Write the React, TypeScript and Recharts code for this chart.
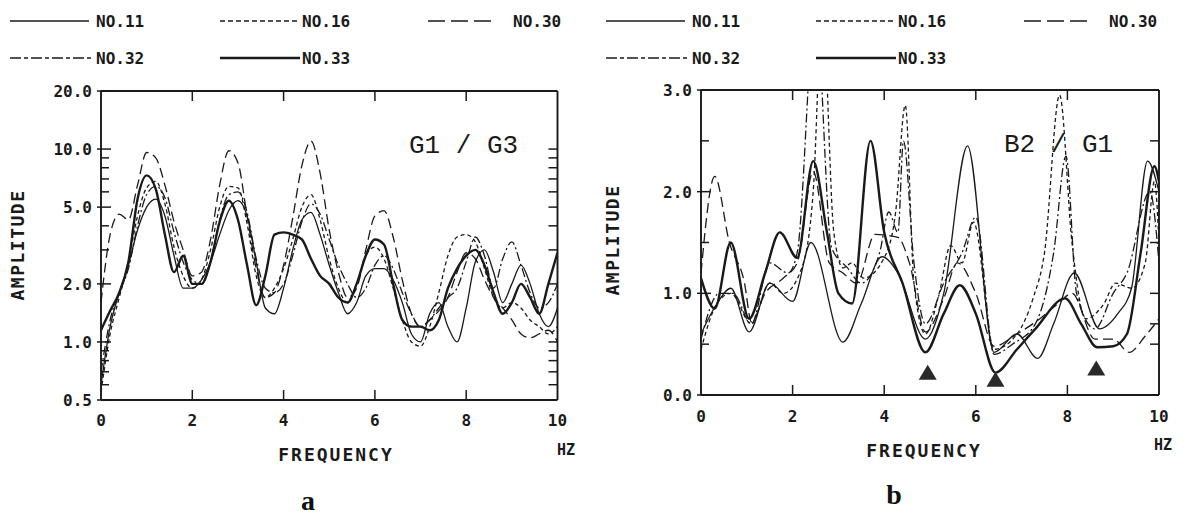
import React from 'react';
import { ComposedChart, Line, XAxis, YAxis, Scatter } from 'recharts';

// ---------- data ----------
const freqA = [0,0.2,0.4,0.6,0.8,1,1.2,1.4,1.6,1.8,2,2.2,2.4,2.6,2.8,3,3.2,3.4,3.6,3.8,4,4.2,4.4,4.6,4.8,5,5.2,5.4,5.6,5.8,6,6.2,6.4,6.6,6.8,7,7.2,7.4,7.6,7.8,8,8.2,8.4,8.6,8.8,9,9.2,9.4,9.6,9.8,10];
const a11 = [0.6,1.2,1.8,2.5,3.8,5.0,5.5,4.5,2.8,1.9,1.9,2.1,2.6,3.6,4.8,5.4,4.5,2.6,1.5,1.4,1.9,3.0,4.3,4.7,3.6,2.5,1.8,1.4,1.6,2.2,2.4,2.4,2.1,1.6,1.1,1.0,1.4,1.6,1.2,1.0,1.5,2.6,3.0,2.3,1.6,2.0,2.5,2.0,1.4,1.2,1.5];
const a16 = [0.55,1.1,1.7,2.6,4.5,6.3,6.8,5.2,3.1,2.2,1.9,2.1,3.0,5.0,6.4,6.3,4.1,2.2,1.7,1.9,2.4,3.4,5.0,5.8,4.3,2.7,1.9,1.6,2.0,2.8,3.1,2.7,1.9,1.3,1.0,0.95,1.2,1.8,2.8,3.5,3.6,3.3,2.4,1.7,1.5,1.6,1.5,1.3,1.2,1.1,1.2];
const a30 = [1.6,3.6,4.6,4.3,6.5,9.6,9.0,6.5,4.2,3.0,2.2,2.3,3.4,6.5,9.8,8.5,4.5,2.4,1.7,1.8,2.5,4.4,8.2,11.0,7.5,3.8,2.3,1.7,1.9,3.0,4.5,4.8,3.5,2.1,1.4,1.2,1.3,1.45,1.7,2.3,2.9,2.7,2.1,1.7,1.5,1.3,1.1,1.05,1.1,1.15,1.0];
const a32 = [0.7,1.3,1.8,2.4,4.0,5.8,6.4,5.6,3.7,2.6,2.1,2.0,2.6,4.3,5.8,6.0,4.7,2.7,1.9,1.8,2.0,2.8,4.2,5.2,4.6,3.4,2.5,2.0,1.7,1.9,2.5,2.8,2.4,1.8,1.4,1.2,1.3,1.5,1.7,1.9,2.6,3.5,2.8,1.9,2.7,3.3,2.5,1.8,1.5,1.6,2.0];
const a33 = [1.15,1.45,1.8,2.6,5.5,7.3,6.2,3.6,2.3,2.8,2.0,2.0,2.6,4.2,5.4,4.3,2.5,1.55,2.2,3.6,3.7,3.6,3.4,2.7,2.2,2.0,1.7,1.6,2.0,2.8,3.4,3.2,2.0,1.3,1.2,1.2,1.15,1.3,1.9,2.4,2.8,3.0,2.5,1.8,1.4,1.6,2.0,1.7,1.4,2.0,2.9];

const b11F = [0,0.35,0.65,1.05,1.5,2.0,2.4,3.1,3.5,3.95,4.3,4.9,5.3,5.82,6.4,6.9,7.35,7.7,8.15,8.7,9.1,9.4,9.75,10];
const b11V = [0.6,0.9,1.05,0.62,1.1,0.92,1.5,0.52,0.9,1.36,1.2,0.55,1.0,2.45,0.42,0.6,0.36,0.7,1.2,0.65,0.8,1.05,2.3,2.0];
const b16F = [0,0.35,0.65,1.1,1.5,1.8,2.2,2.45,2.65,2.9,3.1,3.3,3.55,4.0,4.25,4.46,4.65,4.9,5.2,5.45,5.7,5.95,6.4,6.9,7.25,7.5,7.83,8.1,8.4,8.8,9.05,9.4,9.7,9.9,10];
const b16V = [0.45,0.9,1.0,0.7,1.1,1.0,1.25,2.0,3.8,1.6,1.25,1.3,1.15,1.35,1.8,2.85,1.1,0.6,1.0,1.47,1.3,1.7,0.45,0.6,0.95,1.4,2.95,1.5,0.75,0.9,1.1,1.05,1.3,2.1,1.5];
const b30F = [0,0.3,0.62,0.95,1.1,1.4,1.8,2.1,2.45,2.8,3.1,3.4,3.8,4.3,4.55,4.9,5.3,5.6,6.0,6.4,6.9,7.4,7.8,8.1,8.6,9.0,9.35,9.7,10];
const b30V = [1.2,2.15,1.5,1.1,0.72,1.0,1.15,1.3,2.2,1.3,1.2,1.1,1.58,1.55,1.3,0.62,0.95,1.3,1.0,0.48,0.6,0.75,0.9,1.0,0.55,0.55,0.42,0.58,0.75];
const b32F = [0,0.4,0.7,1.1,1.5,1.9,2.1,2.5,2.85,3.2,3.5,3.9,4.1,4.3,4.42,4.65,4.9,5.3,5.7,6.0,6.4,6.8,7.3,7.7,7.97,8.2,8.6,9.0,9.3,9.8,10];
const b32V = [0.55,1.0,1.0,0.7,1.3,1.2,1.4,3.8,1.45,1.25,1.1,1.4,1.8,1.6,2.5,1.3,0.7,1.1,1.4,1.75,0.4,0.5,0.7,1.4,2.35,1.0,0.65,1.0,1.2,2.0,1.3];
const b33F = [0,0.3,0.65,1.05,1.4,1.72,2.1,2.45,2.75,3.0,3.3,3.7,4.0,4.4,4.9,5.3,5.65,6.0,6.43,6.9,7.3,7.95,8.3,8.65,9.0,9.3,9.6,9.9,10];
const b33V = [1.15,0.85,1.5,0.75,1.2,1.6,1.35,2.3,1.6,1.0,0.9,2.5,1.6,1.1,0.42,0.8,1.08,0.8,0.22,0.45,0.65,0.95,0.7,0.47,0.48,0.6,1.4,2.25,2.1];

const triF = [4.95, 6.43, 8.63];
const triV = [0.22, 0.15, 0.26];

const xTicks = [0, 2, 4, 6, 8, 10];
const xInnerTicks = [2, 4, 6, 8];
const aMajor = [0.5, 1, 2, 5, 10, 20];
const aMinor = [0.6, 0.7, 0.8, 0.9, 3, 4, 6, 7, 8, 9];
const bMajor = [0, 1, 2, 3];
const bMinor = [0.5, 1.5, 2.5];
const bRight = [0.5, 0.7, 1, 1.5, 2, 2.5];
const seriesNames = ['NO.11', 'NO.16', 'NO.30', 'NO.32', 'NO.33'];

// ---------- style ----------
const INK = '#1a1a1a';
const FONT = "'DejaVu Sans Mono', 'Liberation Mono', monospace";
const THIN = "'Liberation Mono', 'DejaVu Sans Mono', monospace";
const WEIGHT = 600;
const styles: Record<string, { w: number; dash?: string }> = {
  'NO.11': { w: 1.3 },
  'NO.16': { w: 1.3, dash: '4 3' },
  'NO.30': { w: 1.3, dash: '10 5' },
  'NO.32': { w: 1.3, dash: '9 3 2 3' },
  'NO.33': { w: 2.4 },
};

const zip = (fs: number[], vs: number[]) => fs.map((f, i) => ({ f, v: vs[i] }));
const seriesA = [a11, a16, a30, a32, a33].map((vs) => zip(freqA, vs));
const seriesB = [zip(b11F, b11V), zip(b16F, b16V), zip(b30F, b30V), zip(b32F, b32V), zip(b33F, b33V)];
const triData = zip(triF, triV);

const has = (arr: number[], v: number) => arr.some((m) => Math.abs(m - v) < 1e-9);

const leftTick = (majors: number[], digits: number, margin: number) => (props: any) => {
  const { x, y, payload } = props;
  const v = payload.value as number;
  const major = has(majors, v);
  const ax = x + margin;
  return (
    <g>
      <line x1={major ? ax - 4 : ax} x2={ax + (major ? 10 : 8)} y1={y} y2={y} stroke={INK} strokeWidth={1.5} />
      {major && (
        <text x={x} y={y + 6} textAnchor="end" fontFamily={FONT} fontWeight={WEIGHT} fontSize={16} fill={INK}>
          {v.toFixed(digits)}
        </text>
      )}
    </g>
  );
};

const rightTick = (props: any) => {
  const { x, y } = props;
  return <line x1={x} x2={x - 9} y1={y} y2={y} stroke={INK} strokeWidth={1.5} />;
};

const bottomTick = (margin: number) => (props: any) => {
  const { x, y, payload } = props;
  const v = payload.value as number;
  const ay = y - margin;
  return (
    <g>
      {v > 0 && v < 10 && <line x1={x} x2={x} y1={ay} y2={ay - 10} stroke={INK} strokeWidth={1.5} />}
      <text x={x} y={y + 12} textAnchor="middle" fontFamily={FONT} fontWeight={WEIGHT} fontSize={16} fill={INK}>
        {String(v)}
      </text>
    </g>
  );
};

const topTick = (props: any) => {
  const { x, y } = props;
  return <line x1={x} x2={x} y1={y} y2={y + 10} stroke={INK} strokeWidth={1.5} />;
};

const Triangle = (props: any) => {
  const { cx, cy } = props;
  return <polygon points={`${cx},${cy - 8} ${cx - 9},${cy + 7} ${cx + 9},${cy + 7}`} fill="#2a2a2a" />;
};

const axisLine = { stroke: INK, strokeWidth: 1.9 };

function Panel(props: {
  width: number;
  margin: { top: number; right: number; bottom: number; left: number };
  leftWidth: number;
  log: boolean;
  series: { f: number; v: number }[][];
  bottomMargin: number;
  tri?: boolean;
}) {
  const { width, margin, leftWidth, log, series, bottomMargin, tri } = props;
  const domain: [number, number] = log ? [0.5, 20] : [0, 3];
  const leftTicks = log ? [...aMajor, ...aMinor].sort((p, q) => p - q) : [...bMajor, ...bMinor].sort((p, q) => p - q);
  const rTicks = log ? [...aMajor, ...aMinor].filter((v) => v > 0.5 && v < 20) : bRight;
  return (
    <ComposedChart width={width} height={520} margin={margin}>
      <XAxis xAxisId="b" type="number" dataKey="f" domain={[0, 10]} ticks={xTicks} interval={0} orientation="bottom"
        height={40} tickSize={0} tickMargin={bottomMargin} tickLine={false} axisLine={axisLine}
        tick={bottomTick(bottomMargin)} allowDataOverflow />
      <XAxis xAxisId="t" type="number" dataKey="f" domain={[0, 10]} ticks={xInnerTicks} interval={0} orientation="top"
        height={1} tickSize={0} tickMargin={0} tickLine={false} axisLine={axisLine} tick={topTick} allowDataOverflow />
      <YAxis yAxisId="l" type="number" scale={log ? 'log' : 'linear'} domain={domain} ticks={leftTicks} interval={0}
        width={leftWidth} tickSize={0} tickMargin={9} tickLine={false} axisLine={axisLine}
        tick={leftTick(log ? aMajor : bMajor, 1, 9)} allowDataOverflow />
      <YAxis yAxisId="r" orientation="right" type="number" scale={log ? 'log' : 'linear'} domain={domain} ticks={rTicks}
        interval={0} width={8} tickSize={0} tickMargin={0} tickLine={false} axisLine={axisLine} tick={rightTick}
        allowDataOverflow />
      {series.map((d, i) => {
        const st = styles[seriesNames[i]];
        return (
          <Line key={seriesNames[i]} xAxisId="b" yAxisId="l" data={d} dataKey="v" name={seriesNames[i]}
            type="monotone" stroke={INK} strokeWidth={st.w} strokeDasharray={st.dash} dot={false}
            activeDot={false} isAnimationActive={false} />
        );
      })}
      {tri && (
        <Scatter xAxisId="b" yAxisId="l" data={triData} dataKey="v" shape={Triangle} isAnimationActive={false} />
      )}
    </ComposedChart>
  );
}

function LegendBlock({ ox }: { ox: number }) {
  const items = [
    { name: 'NO.11', x1: 10, x2: 89, tx: 96, y: 21, w: 1.3, dash: undefined },
    { name: 'NO.16', x1: 220, x2: 300, tx: 302, y: 21, w: 1.3, dash: '5 3' },
    { name: 'NO.30', x1: 428, x2: 494, tx: 513, y: 21, w: 1.4, dash: '17 6' },
    { name: 'NO.32', x1: 10, x2: 93, tx: 96, y: 58, w: 1.3, dash: '11 3 4 3' },
    { name: 'NO.33', x1: 220, x2: 300, tx: 302, y: 58, w: 2.3, dash: undefined },
  ];
  return (
    <g>
      {items.map((it) => (
        <g key={it.name}>
          <line x1={ox + it.x1} x2={ox + it.x2} y1={it.y} y2={it.y} stroke={INK} strokeWidth={it.w} strokeDasharray={it.dash} />
          <text x={ox + it.tx} y={it.y + 6} fontFamily={FONT} fontWeight={WEIGHT} fontSize={16} fill={INK}>{it.name}</text>
        </g>
      ))}
    </g>
  );
}

export default function App() {
  return (
    <div style={{ position: 'absolute', left: 0, top: 0, width: 1187, height: 520, background: '#fff', overflow: 'hidden' }}>
      <div style={{ position: 'absolute', left: 0, top: 0 }}>
        <Panel width={594} margin={{ top: 90, right: 28.5, bottom: 80, left: 0 }} leftWidth={101}
          log series={seriesA} bottomMargin={14} />
      </div>
      <div style={{ position: 'absolute', left: 594, top: 0 }}>
        <Panel width={593} margin={{ top: 89, right: 20, bottom: 85, left: 0 }} leftWidth={107}
          log={false} series={seriesB} bottomMargin={15} tri />
      </div>
      <svg width={1187} height={520} style={{ position: 'absolute', left: 0, top: 0, pointerEvents: 'none' }}>
        <LegendBlock ox={0} />
        <LegendBlock ox={596} />
        <text x={336} y={461} textAnchor="middle" fontFamily={FONT} fontWeight={WEIGHT} fontSize={18} letterSpacing={2} fill={INK}>FREQUENCY</text>
        <text x={924} y={457} textAnchor="middle" fontFamily={FONT} fontWeight={WEIGHT} fontSize={18} letterSpacing={2} fill={INK}>FREQUENCY</text>
        <text x={566} y={455} textAnchor="middle" fontFamily={FONT} fontWeight={WEIGHT} fontSize={15} fill={INK}>HZ</text>
        <text x={1163} y={450} textAnchor="middle" fontFamily={FONT} fontWeight={WEIGHT} fontSize={15} fill={INK}>HZ</text>
        <text transform="translate(24,245) rotate(-90)" textAnchor="middle" fontFamily={FONT} fontWeight={WEIGHT} fontSize={18} letterSpacing={1.5} fill={INK}>AMPLITUDE</text>
        <text transform="translate(619,240) rotate(-90)" textAnchor="middle" fontFamily={FONT} fontWeight={WEIGHT} fontSize={18} letterSpacing={1.5} fill={INK}>AMPLITUDE</text>
        <text x={409} y={153} fontFamily={THIN} fontSize={26} fill={INK}>G1 / G3</text>
        <text x={1004} y={152} fontFamily={THIN} fontSize={26} fill={INK}>B2 / G1</text>
        <text x={308} y={510} textAnchor="middle" fontFamily="'Liberation Serif', serif" fontWeight="bold" fontSize={28} fill="#111">a</text>
        <text x={894} y={504} textAnchor="middle" fontFamily="'Liberation Serif', serif" fontWeight="bold" fontSize={28} fill="#111">b</text>
      </svg>
    </div>
  );
}
